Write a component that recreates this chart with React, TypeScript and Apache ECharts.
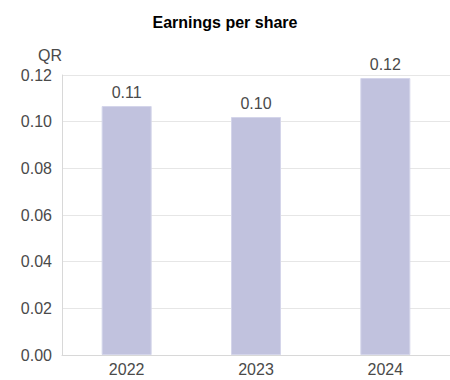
import React, { useEffect, useRef } from "react";
import * as echarts from "echarts";

const categories = ["2022", "2023", "2024"];
const eps = [0.1067, 0.102, 0.1187];
const yTicks = { min: 0, max: 0.12, interval: 0.02 };

export default function App() {
  const ref = useRef<HTMLDivElement>(null);
  useEffect(() => {
    if (!ref.current) return;
    const chart = echarts.init(ref.current, undefined, { renderer: "svg" });
    const font = "'Liberation Sans', Arial, sans-serif";
    chart.setOption({
      animation: false,
      title: {
        text: "Earnings per share",
        left: "center",
        top: 9,
        textStyle: { fontFamily: font, fontSize: 16, fontWeight: "bold", color: "#000" },
      },
      grid: { left: 62, right: 0, top: 75, bottom: 25, containLabel: false },
      xAxis: {
        type: "category",
        data: categories,
        axisLine: { show: true, lineStyle: { color: "#d8d8d8", width: 1 } },
        axisTick: { show: false },
        axisLabel: { color: "#4a4a4a", fontFamily: font, fontSize: 16, margin: 6 },
      },
      yAxis: {
        type: "value",
        min: yTicks.min,
        max: yTicks.max,
        interval: yTicks.interval,
        name: "QR",
        nameLocation: "end",
        nameGap: 12,
        nameTextStyle: { color: "#4a4a4a", fontFamily: font, fontSize: 16, align: "right", padding: [0, 0, 0, 0] },
        axisLine: { show: true, lineStyle: { color: "#d8d8d8", width: 1 } },
        axisTick: { show: false },
        splitLine: { show: true, lineStyle: { color: "#e6e6e6", width: 1 } },
        axisLabel: {
          color: "#4a4a4a",
          fontFamily: font,
          fontSize: 16,
          margin: 10,
          formatter: (v: number) => v.toFixed(2),
        },
      },
      series: [
        {
          type: "bar",
          data: eps,
          barWidth: 50,
          itemStyle: { color: "#c1c2de", borderColor: "#d4d5ea", borderWidth: 1 },
          label: {
            show: true,
            position: "top",
            distance: 6,
            color: "#4a4a4a",
            fontFamily: font,
            fontSize: 16,
            formatter: (p: any) => Number(p.value).toFixed(2),
          },
        },
      ],
    });
    return () => chart.dispose();
  }, []);
  return <div ref={ref} style={{ width: 450, height: 380, position: "absolute", left: 0, top: 0 }} />;
}
